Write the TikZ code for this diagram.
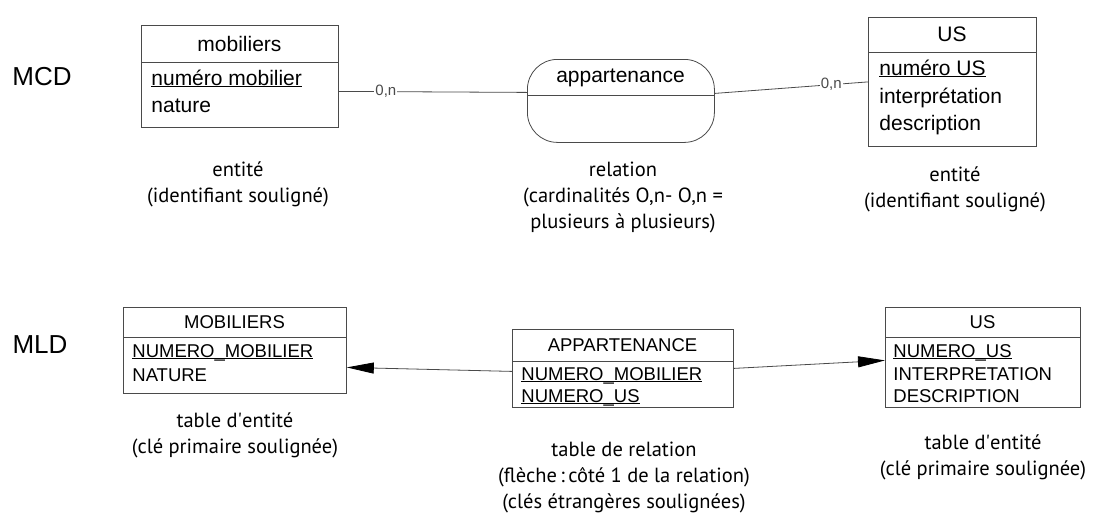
\documentclass[tikz,border=0pt]{standalone}
\usepackage{fontspec}
\setmainfont{Liberation Sans}
\newfontfamily\legende{PT Sans}
\usetikzlibrary{positioning, arrows.meta, calc}
\definecolor{trait}{HTML}{4A4A4A}
\newcommand{\souligne}[1]{\underline{\smash{#1}}}

\begin{document}
\begin{tikzpicture}[
    x = 1pt, y = -1pt, line width = 0.8pt,
    fleche/.style = {-{Triangle[length=27pt, width=11pt, color=black]}},
    boite/.style = {draw=trait, inner sep=0pt, anchor=north west},
    relbox/.style = {boite, rounded corners=30pt},
    titre/.style = {inner sep=0pt, font=\fontsize{21}{21}\selectfont},
    attr/.style = {inner sep=0pt, anchor=base west, font=\fontsize{21}{21}\selectfont},
    titreL/.style = {inner sep=0pt, font=\fontsize{18.5}{18.5}\selectfont},
    attrL/.style = {inner sep=0pt, anchor=base west, font=\fontsize{18.5}{18.5}\selectfont},
    card/.style = {fill=white, inner sep=1pt, font=\fontsize{15}{15}\selectfont},
    modele/.style = {inner sep=0pt, font=\fontsize{26}{26}\selectfont},
    legend/.style = {align=center, inner sep=0pt, font=\legende\fontsize{20.5}{26}\selectfont}
]
    \fill[white] (0,0) rectangle (1100,515);
    \useasboundingbox (0,0) rectangle (1100,515);

    % MCD
    \node[modele] (mcd) at (42,77) {MCD};

    \node[boite, minimum width=197pt, minimum height=102pt] (mob) at (141,25) {};
    \draw[trait] ([yshift=-37pt]mob.north west) -- ([yshift=-37pt]mob.north east);
    \node[titre] (mobT) at (239.5,43.5) {mobiliers};
    \node[attr] (mobA) at (151,85) {\souligne{numéro mobilier}};
    \node[attr] (mobB) at (151,112) {nature};

    \node[relbox, minimum width=187pt, minimum height=83pt] (rel) at (527,59) {};
    \draw[trait] ([yshift=-36pt]rel.north west) -- ([yshift=-36pt]rel.north east);
    \node[titre] (relT) at (620.5,77.5) {appartenance};

    \node[boite, minimum width=168pt, minimum height=129pt] (us) at (868,17) {};
    \draw[trait] ([yshift=-35pt]us.north west) -- ([yshift=-35pt]us.north east);
    \node[titre] (usT) at (952,34.5) {US};
    \node[attr] (usA) at (879,75) {\souligne{numéro US}};
    \node[attr] (usB) at (879,103) {interprétation};
    \node[attr] (usC) at (879,130) {description};

    \draw[trait] ([yshift=-15pt]mob.east) -- node[card, pos=0.25] {0,n} ([yshift=8.5pt]rel.west);
    \draw[trait] ([yshift=7.5pt]rel.east) -- node[card, pos=0.76] {0,n} (us.west);

    \node[legend] (legMob) at (238,184) {entité\\(identifiant souligné)};
    \node[legend] (legRel) at (623,197) {relation\\(cardinalités O,n- O,n =\\plusieurs à plusieurs)};
    \node[legend] (legUs) at (955,189) {entité\\(identifiant souligné)};

    % MLD
    \node[modele] (mld) at (40,345) {MLD};

    \node[boite, minimum width=223pt, minimum height=86pt] (mobL) at (123,307) {};
    \draw[trait] ([yshift=-30pt]mobL.north west) -- ([yshift=-30pt]mobL.north east);
    \node[titreL] (mobLT) at (234.5,322) {MOBILIERS};
    \node[attrL] (mobLA) at (132,357) {\souligne{NUMERO\_MOBILIER}};
    \node[attrL] (mobLB) at (132,381) {NATURE};

    \node[boite, minimum width=221pt, minimum height=78pt] (appL) at (512,329) {};
    \draw[trait] ([yshift=-32pt]appL.north west) -- ([yshift=-32pt]appL.north east);
    \node[titreL] (appLT) at (622.5,345) {APPARTENANCE};
    \node[attrL] (appLA) at (521,380) {\souligne{NUMERO\_MOBILIER}};
    \node[attrL] (appLB) at (521,402) {\souligne{NUMERO\_US}};

    \node[boite, minimum width=195pt, minimum height=100pt] (usL) at (885,307) {};
    \draw[trait] ([yshift=-30pt]usL.north west) -- ([yshift=-30pt]usL.north east);
    \node[titreL] (usLT) at (982.5,322) {US};
    \node[attrL] (usLA) at (893,357) {\souligne{NUMERO\_US}};
    \node[attrL] (usLB) at (893,380) {INTERPRETATION};
    \node[attrL] (usLC) at (893,402) {DESCRIPTION};

    \draw[trait, fleche] ([yshift=-3pt]appL.west) -- ([yshift=-17pt]mobL.east);
    \draw[trait, fleche] (appL.east) -- ([yshift=-3pt]usL.west);

    \node[legend] (legMobL) at (235,435) {table d\textquotesingle entité\\(clé primaire soulignée)};
    \node[legend] (legAppL) at (624,477) {table de relation\\(flèche\,:\,côté 1 de la relation)\\(clés étrangères soulignées)};
    \node[legend] (legUsL) at (983,457) {table d\textquotesingle entité\\(clé primaire soulignée)};
\end{tikzpicture}
\end{document}
